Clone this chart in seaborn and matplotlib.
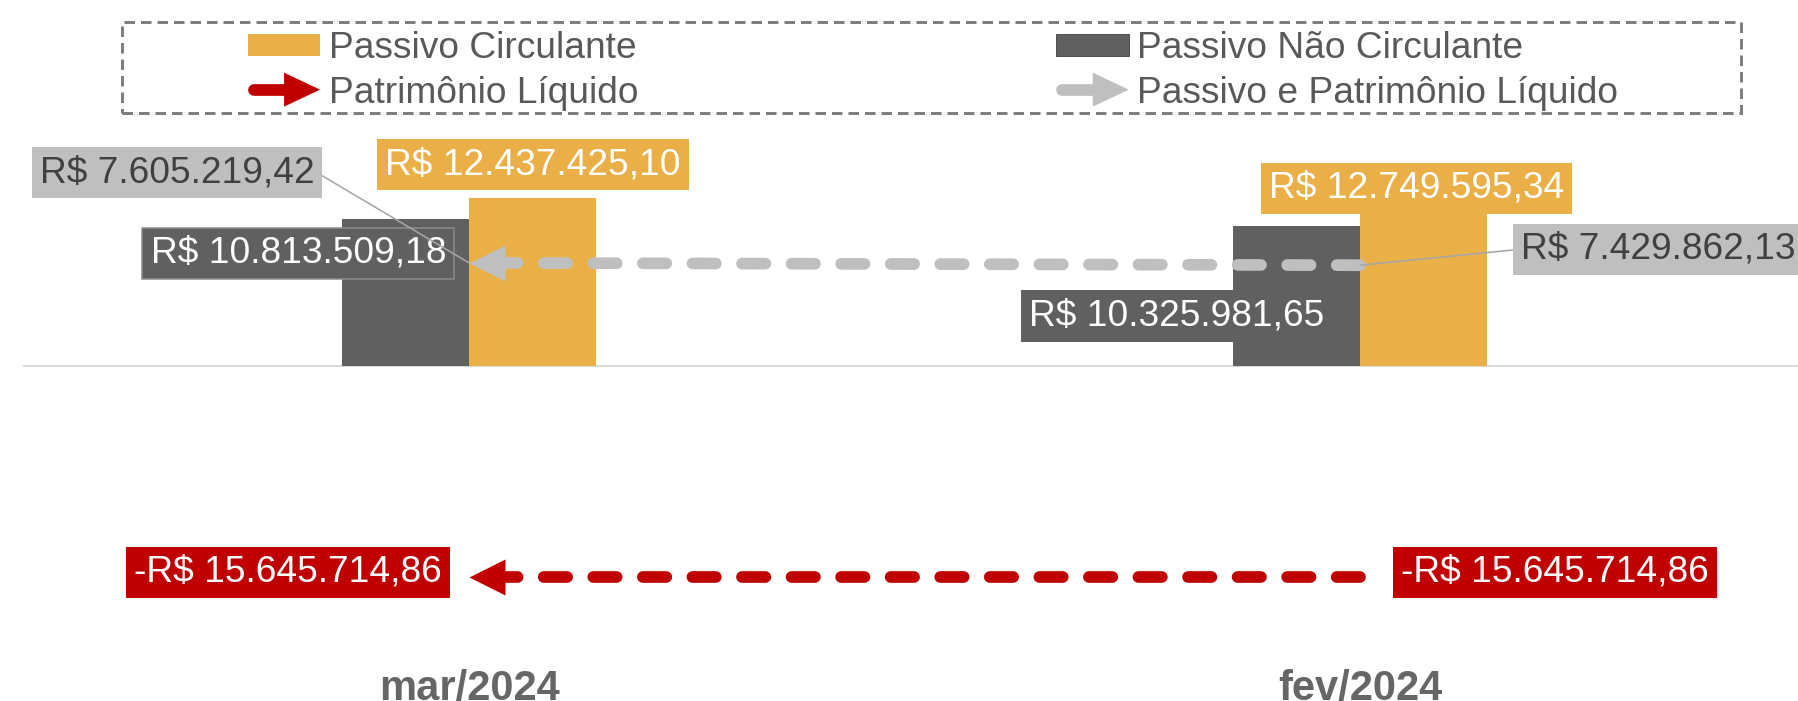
import numpy as np
import pandas as pd
import matplotlib
matplotlib.use("Agg")
import matplotlib.pyplot as plt
import seaborn as sns
from matplotlib.lines import Line2D
from matplotlib.patches import Patch, Polygon, Rectangle
from matplotlib.legend_handler import HandlerBase
from matplotlib.path import Path

# ---------------- data ----------------
categories = ["mar/2024", "fev/2024"]
passivo_circulante = [12437425.10, 12749595.34]
passivo_nao_circulante = [10813509.18, 10325981.65]
patrimonio_liquido = [-15645714.86, -15645714.86]
passivo_e_pl = [7605219.42, 7429862.13]

bar_series = ["Passivo Não Circulante", "Passivo Circulante"]
line_series = ["Patrimônio Líquido", "Passivo e Patrimônio Líquido"]

# ---------------- style ----------------
C_ORANGE = "#EAAF47"
C_DARK = "#606060"
C_LGRAY = "#BFBFBF"
C_RED = "#C00000"
C_TEXT = "#595959"

sns.set_theme(style="white")
plt.rcParams["font.family"] = ["Liberation Sans", "DejaVu Sans"]

DPI = 100
W, H = 1798, 701


def px(v):
    return v * 72.0 / DPI


def brl(v):
    s = f"{abs(v):,.2f}".replace(",", "X").replace(".", ",").replace("X", ".")
    return ("-" if v < 0 else "") + "R$ " + s


fig = plt.figure(figsize=(W / DPI, H / DPI), dpi=DPI)
ax_l, ax_r, ax_t, ax_b = 23, 1798, 120, 650
ax = fig.add_axes([ax_l / W, 1 - ax_b / H, (ax_r - ax_l) / W, (ax_b - ax_t) / H])

df = pd.DataFrame({
    "categoria": categories * 2,
    "serie": [bar_series[0]] * len(categories) + [bar_series[1]] * len(categories),
    "valor": passivo_nao_circulante + passivo_circulante,
})
palette = {bar_series[0]: C_DARK, bar_series[1]: C_ORANGE}

ax.axhline(0, color="#D9D9D9", lw=px(2), zorder=0.5)
sns.barplot(data=df, x="categoria", y="valor", hue="serie", order=categories,
            hue_order=bar_series, palette=palette, width=0.286, saturation=1,
            legend=False, ax=ax, edgecolor="none", linewidth=0, zorder=2)

LW = px(11.7)
# dash pattern in linewidth units: on, off ; offset starts just inside a gap
DASH = (2.085, (2.0, 2.236))
arrow_marker = Path([(0, 0), (2, 1), (2, -1), (0, 0)],
                    [Path.MOVETO, Path.LINETO, Path.LINETO, Path.CLOSEPOLY])
for vals, color in [(passivo_e_pl, C_LGRAY), (patrimonio_liquido, C_RED)]:
    sns.lineplot(x=categories, y=vals, ax=ax, color=color, lw=LW, sort=False,
                 linestyle=DASH, dash_capstyle="round",
                 zorder=4, legend=False)
    ax.plot(categories[:1], vals[:1], linestyle="none", marker=arrow_marker,
            ms=px(72), color=color, markeredgewidth=0, zorder=5)

ax.set_xlim(-0.5006, 1.4916)
ax.set_ylim(-21.03e6, 18.17e6)
ax.set_xlabel("")
ax.set_ylabel("")
ax.set_yticks([])
sns.despine(ax=ax, left=True, bottom=True)
ax.tick_params(axis="x", length=0, pad=px(19))
for t in ax.get_xticklabels():
    t.set_fontsize(30)
    t.set_fontweight("bold")
    t.set_color("#666666")

FS = 26.7
PAD = "square,pad=0.22"
# ---- bar labels ----
bar_style = {
    bar_series[0]: dict(fc=C_DARK, tc="white", offs=[(-107, -34), (-120, -90)],
                        ec=["#8C8C8C", "none"]),
    bar_series[1]: dict(fc=C_ORANGE, tc="white", offs=[(0, 33), (-7, 5)],
                        ec=["none", "none"]),
}
for name, cont in zip(bar_series, ax.containers):
    st = bar_style[name]
    for i, p in enumerate(cont.patches):
        x = p.get_x() + p.get_width() / 2
        y = p.get_height()
        ox, oy = st["offs"][i]
        ax.annotate(brl(y), xy=(x, y), xycoords=ax.transData,
                    xytext=(ox, oy), textcoords="offset pixels",
                    ha="center", va="center", fontsize=FS, color=st["tc"],
                    bbox=dict(boxstyle=PAD, fc=st["fc"],
                              ec=st["ec"][i], lw=px(1.5)),
                    zorder=8)

# ---- line labels ----
xpos = np.arange(len(categories))
# Patrimônio Líquido
for i, (x, v) in enumerate(zip(xpos, patrimonio_liquido)):
    ox = [-181, 195][i]
    ax.annotate(brl(v), xy=(x, v), xycoords=ax.transData, xytext=(ox, 5),
                textcoords="offset pixels", ha="center", va="center",
                fontsize=FS, color="white",
                bbox=dict(boxstyle=PAD, fc=C_RED, ec="none"),
                zorder=8)
# Passivo e PL (with leader lines)
pl_cfg = [dict(off=(-292, 90), ha="center", rel=(1, 0.55)),
          dict(off=(161, 16), ha="left", rel=(0, 0.5))]
for i, (x, v) in enumerate(zip(xpos, passivo_e_pl)):
    c = pl_cfg[i]
    ax.annotate(brl(v), xy=(x, v), xycoords=ax.transData, xytext=c["off"],
                textcoords="offset pixels", ha=c["ha"], va="center",
                fontsize=FS, color="#404040",
                bbox=dict(boxstyle=PAD, fc=C_LGRAY, ec="none"),
                arrowprops=dict(arrowstyle="-", color="#A6A6A6", lw=px(1.6),
                                shrinkA=0, shrinkB=0, relpos=c["rel"]),
                zorder=9, annotation_clip=False)


# ---------------- legend ----------------
class HandlerArrow(HandlerBase):
    def create_artists(self, legend, orig_handle, xdescent, ydescent, width,
                       height, fontsize, trans):
        col = orig_handle.get_color()
        lw = orig_handle.get_linewidth()
        y = height / 2 - ydescent
        x0 = -xdescent
        head_len, head_h = px(36), px(34)
        xb = x0 + width - head_len
        ln = Line2D([x0 + lw / 2, xb + 1], [y, y], color=col, lw=lw,
                    solid_capstyle="round")
        tri = Polygon([[xb, y - head_h / 2], [x0 + width, y], [xb, y + head_h / 2]],
                      closed=True, fc=col, ec="none")
        ln.set_transform(trans)
        tri.set_transform(trans)
        return [ln, tri]


handles = [Patch(fc=C_ORANGE, ec="none"),
           Line2D([], [], color=C_RED, lw=LW),
           Patch(fc=C_DARK, ec="#505050", lw=px(1)),
           Line2D([], [], color=C_LGRAY, lw=LW)]
labels = [bar_series[1], line_series[0], bar_series[0], line_series[1]]
fig.legend(handles, labels, loc="center",
           bbox_to_anchor=(933.0 / W, 1 - 71.0 / H), ncol=2, frameon=False,
           fontsize=FS, handlelength=1.95, handleheight=0.5,
           handletextpad=0.23, columnspacing=11.28, labelspacing=0.26,
           borderpad=0, labelcolor=C_TEXT, handler_map={Line2D: HandlerArrow()})
fig.add_artist(Rectangle((122 / W, 1 - 113 / H), (1741 - 122) / W, (113 - 22) / H,
                         transform=fig.transFigure, fill=False, ec="#7F7F7F",
                         lw=px(3), linestyle=(0, (3.5, 2.0))))

fig.savefig("out.png", dpi=DPI)
